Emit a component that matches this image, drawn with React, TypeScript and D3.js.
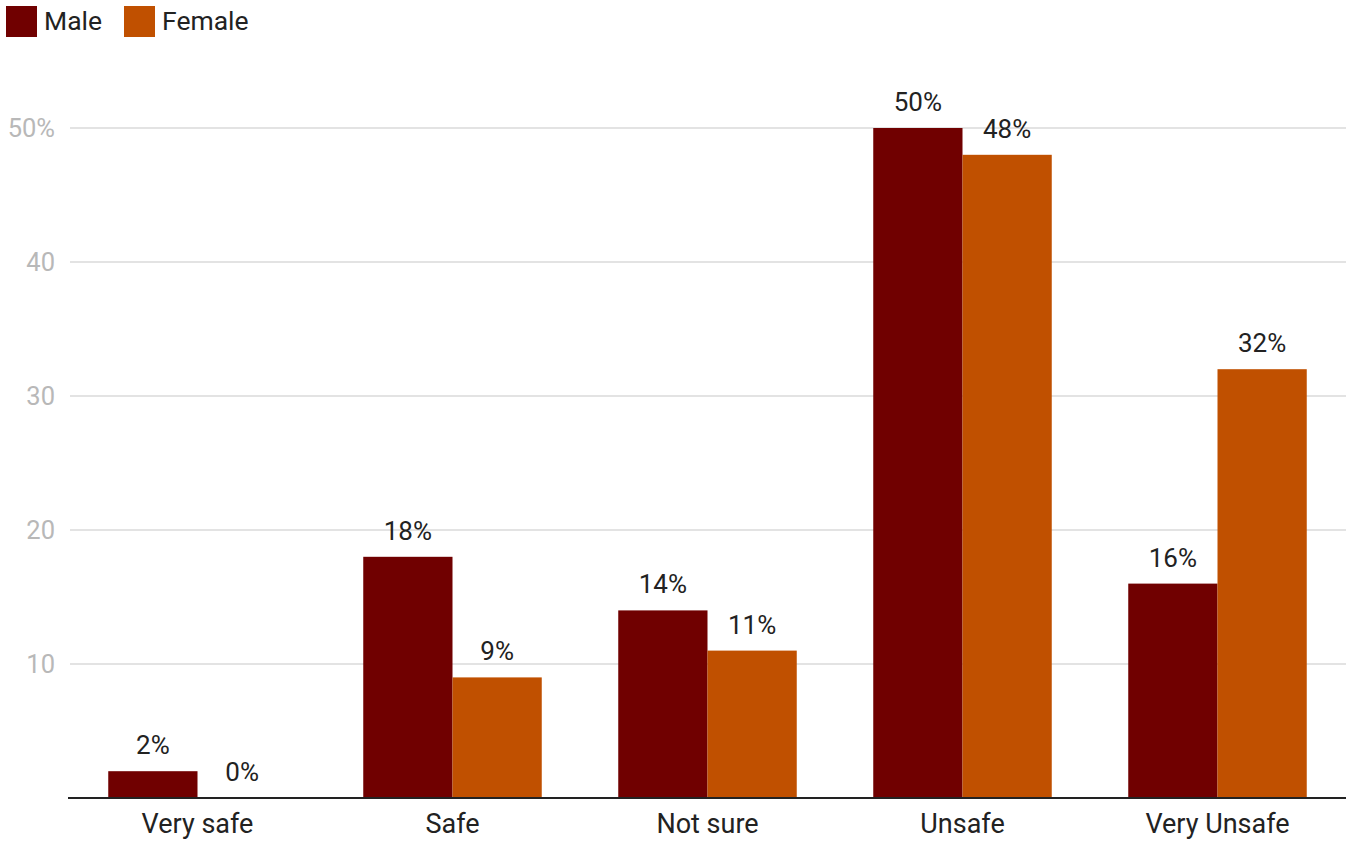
import React from "react";
import * as d3 from "d3";

const categories = ["Very safe", "Safe", "Not sure", "Unsafe", "Very Unsafe"];
const seriesNames = ["Male", "Female"];
const maleValues = [2, 18, 14, 50, 16];
const femaleValues = [0, 9, 11, 48, 32];
const seriesColors = ["#700000", "#c05000"];
const yTicks = [10, 20, 30, 40, 50];

const W = 1351;
const H = 841;
const FONT = "Roboto, 'Noto Sans', sans-serif";

export default function App() {
  const axisLeft = 68;
  const right = 1346;
  const base = 798;
  const x0 = d3.scaleBand<string>().domain(categories).range([70, 1345]).paddingInner(0.3).paddingOuter(0.15);
  const x1 = d3.scaleBand<string>().domain(seriesNames).range([0, x0.bandwidth()]);
  const y = d3.scaleLinear().domain([0, 50]).range([base, 128]);
  const series = [maleValues, femaleValues];

  return (
    <svg width={W} height={H} style={{ position: "absolute", left: 0, top: 0 }} fontFamily={FONT}>
      <rect width={W} height={H} fill="#fff" />
      {/* legend */}
      {seriesNames.map((s, i) => {
        const lx = [6, 124][i];
        return (
          <g key={s}>
            <rect x={lx} y={6} width={31} height={31} fill={seriesColors[i]} />
            <text x={lx + 38} y={30} fontSize={26.5} fill="#222">{s}</text>
          </g>
        );
      })}
      {/* grid + y labels */}
      {yTicks.map((t) => (
        <g key={t}>
          <line x1={70} x2={right} y1={y(t)} y2={y(t)} stroke="#e3e3e3" strokeWidth={2} />
          <text x={55} y={y(t)} dy="0.35em" textAnchor="end" fontSize={25.5} fill="#b8b8b8">
            {t === 50 ? `${t}%` : t}
          </text>
        </g>
      ))}
      {/* bars */}
      {categories.map((c, ci) => (
        <g key={c} transform={`translate(${x0(c)},0)`}>
          {seriesNames.map((s, si) => {
            const v = series[si][ci];
            const bx = x1(s)!;
            return (
              <g key={s}>
                <rect x={bx} y={y(v)} width={x1.bandwidth()} height={base - y(v)} fill={seriesColors[si]} />
                <text x={bx + x1.bandwidth() / 2} y={y(v) - 17} textAnchor="middle" fontSize={26} fill="#222">
                  {v}%
                </text>
              </g>
            );
          })}
          <text x={x0.bandwidth() / 2} y={833} textAnchor="middle" fontSize={27} fill="#222">{c}</text>
        </g>
      ))}
      {/* axis */}
      <line x1={axisLeft} x2={right} y1={base} y2={base} stroke="#222" strokeWidth={2} />
    </svg>
  );
}
